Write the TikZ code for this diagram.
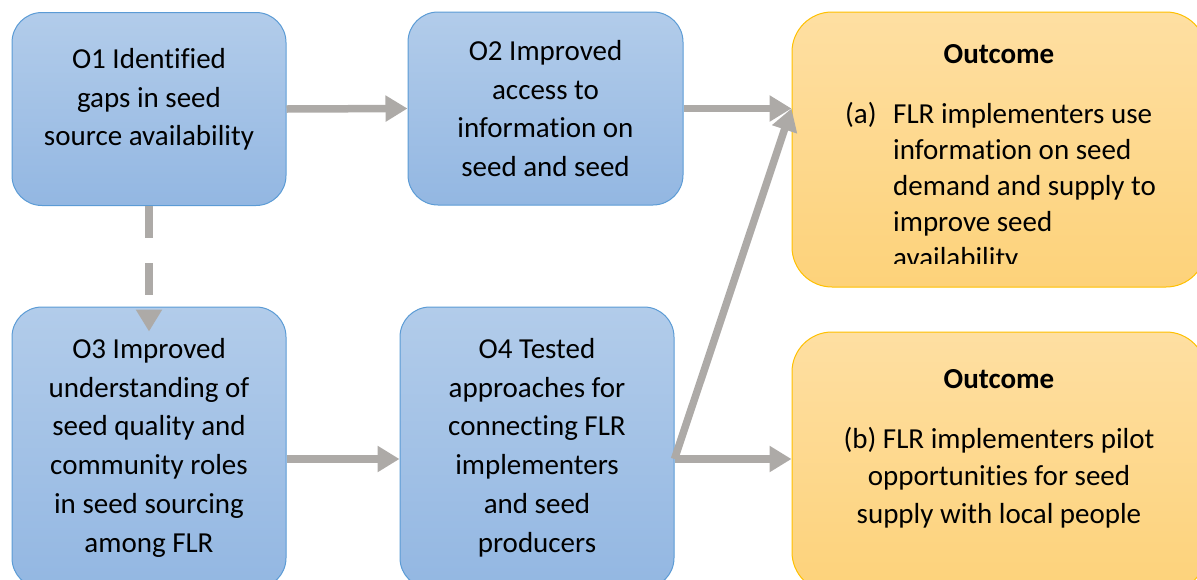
\documentclass[tikz,border=0pt]{standalone}
\usepackage{fontspec}
\setmainfont[Ligatures={NoCommon}]{Carlito}
\usetikzlibrary{arrows.meta,calc}
\definecolor{bluetop}{HTML}{B2CCEA}
\definecolor{bluebot}{HTML}{93B7E2}
\definecolor{blueline}{HTML}{5B9BD5}
\definecolor{oratop}{HTML}{FEDFA2}
\definecolor{orabot}{HTML}{FDD27A}
\definecolor{oraline}{HTML}{FFC000}
\definecolor{arrowgray}{HTML}{ADAAA7}
\begin{document}
\begin{tikzpicture}[x=1pt,y=-1pt,
  bluebox/.style={draw=blueline,line width=1pt,rounded corners=30pt,top color=bluetop,bottom color=bluebot,inner sep=0pt},
  orabox/.style={draw=oraline,line width=1pt,rounded corners=40pt,top color=oratop,bottom color=orabot,inner sep=0pt},
  txt/.style={inner sep=0pt,align=center,anchor=north,font=\fontsize{29}{38.8}\selectfont},
  link/.style={draw=arrowgray,line width=7.5pt,-{Triangle[length=22pt,width=25pt]}},
]
\useasboundingbox (0,0) rectangle (1197,579);
\clip (0,0) rectangle (1197,579);

% boxes
\node[bluebox,minimum width=274pt,minimum height=193pt] (O1) at (149,109) {};
\node[bluebox,minimum width=275pt,minimum height=193pt] (O2) at (545.5,108.5) {};
\node[bluebox,minimum width=274pt,minimum height=281pt] (O3) at (149,447.5) {};
\node[bluebox,minimum width=274pt,minimum height=281pt] (O4) at (537,447.5) {};
\node[orabox,minimum width=414pt,minimum height=275pt] (Oa) at (999,149.5) {};
\node[orabox,minimum width=414pt,minimum height=260pt] (Ob) at (999,462) {};

% texts
\node[txt] (t1) at (149,45) {\rule{0pt}{23pt}O1 Identified\\gaps in seed\\source availability};
\node[txt] (t2) at (545.5,37) {\rule{0pt}{23pt}O2 Improved\\access to\\information on\\seed and seed};
\node[txt] (t3) at (149,335) {\rule{0pt}{23pt}O3 Improved\\understanding of\\seed quality and\\community roles\\in seed sourcing\\among FLR};
\node[txt] (t4) at (537,335) {\rule{0pt}{23pt}O4 Tested\\approaches for\\connecting FLR\\implementers\\and seed\\producers};

\node[anchor=base,inner sep=0pt,font=\bfseries\fontsize{29}{35}\selectfont] (ha) at (999,63) {Outcome};
\node[anchor=base west,inner sep=0pt,font=\fontsize{29}{36}\selectfont] (la) at (845,123) {(a)};
\begin{scope}
  \clip (792,0) rectangle (1206,263);
  \node[anchor=north west,align=left,inner sep=0pt,font=\fontsize{29}{36}\selectfont] (ba) at (893,100) {\rule{0pt}{23pt}FLR implementers use\\information on seed\\demand and supply to\\improve seed\\availability};
\end{scope}

\node[anchor=base,inner sep=0pt,font=\bfseries\fontsize{29}{35}\selectfont] (hb) at (999,388) {Outcome};
\node[txt,font=\fontsize{29}{37.5}\selectfont] (bb) at (999,425) {\rule{0pt}{23pt}(b) FLR implementers pilot\\opportunities for seed\\supply with local people};

% connectors
\coordinate (ina) at (O2.east -| Oa.west);
\coordinate (o3) at ([yshift=-11.5pt]O3.east);
\coordinate (o4) at ([yshift=-11.5pt]O4.east);
\coordinate (in3) at ([yshift=-25pt]O3.north);
\draw[link] (O1.east) -- (O2.west);
\draw[link] (O2.east) -- (ina);
\draw[link] (o3) -- (o3 -| O4.west);
\draw[link] (o4) -- (o4 -| Ob.west);
\draw[link] (o4) -- (ina);
\draw[link,dash pattern=on 32pt off 25pt] (O1.south) -- (in3);
\end{tikzpicture}
\end{document}
